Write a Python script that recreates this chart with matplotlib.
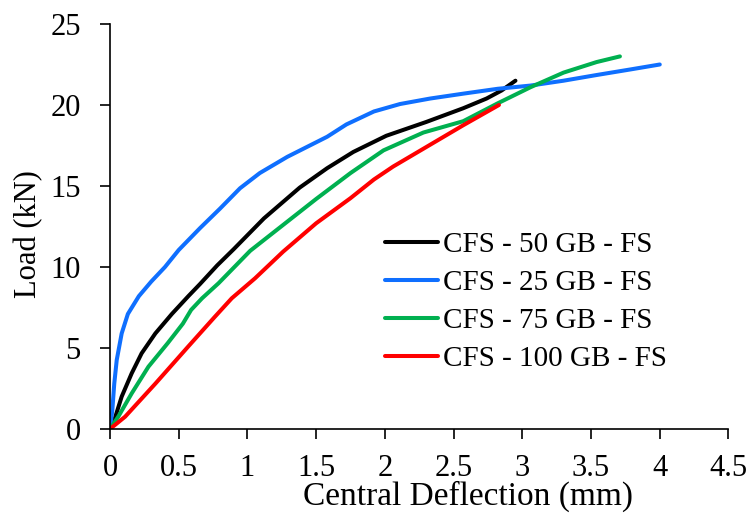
import matplotlib
matplotlib.use("Agg")
import matplotlib.pyplot as plt

plt.rcParams['font.family'] = ['Liberation Serif', 'DejaVu Serif']

# Data
x_50 = [0, 0.024, 0.085, 0.158, 0.23, 0.33, 0.45, 0.57, 0.655, 0.78, 0.90, 1.12, 1.38, 1.58, 1.77, 2.01, 2.30, 2.57, 2.74, 2.85, 2.95]
y_50 = [0, 0.35, 2.0, 3.44, 4.67, 5.9, 7.1, 8.2, 8.95, 10.1, 11.1, 13.0, 14.9, 16.1, 17.1, 18.1, 18.95, 19.8, 20.4, 20.9, 21.5]

x_25 = [0, 0.017, 0.031, 0.049, 0.085, 0.13, 0.21, 0.30, 0.40, 0.50, 0.655, 0.80, 0.946, 1.09, 1.29, 1.58, 1.72, 1.92,
        2.11, 2.33, 2.57, 2.82, 3.06, 3.30, 3.54, 3.79, 4.0]
y_25 = [0, 1.17, 2.8, 4.26, 5.9, 7.1, 8.2, 9.1, 10.0, 11.05, 12.4, 13.6, 14.86, 15.8, 16.8, 18.04, 18.8, 19.6,
        20.06, 20.4, 20.7, 21.0, 21.2, 21.5, 21.85, 22.2, 22.5]

x_75 = [0, 0.06, 0.158, 0.28, 0.42, 0.53, 0.59, 0.67, 0.79, 1.02, 1.26, 1.50, 1.75, 1.99, 2.28, 2.57, 2.82, 3.06, 3.30, 3.54, 3.71]
y_75 = [0, 0.76, 2.2, 3.85, 5.3, 6.5, 7.35, 8.07, 9.0, 11.0, 12.6, 14.2, 15.8, 17.2, 18.3, 19.0, 20.1, 21.1, 22.0, 22.65, 23.0]

x_100 = [0, 0.11, 0.33, 0.57, 0.76, 0.886, 1.055, 1.26, 1.50, 1.75, 1.92, 2.06, 2.30, 2.57, 2.83]
y_100 = [0, 0.76, 2.8, 5.1, 6.9, 8.07, 9.3, 10.95, 12.7, 14.25, 15.4, 16.2, 17.4, 18.75, 20.0]

labels = ['CFS - 50 GB - FS', 'CFS - 25 GB - FS', 'CFS - 75 GB - FS', 'CFS - 100 GB - FS']
colors = ['#000000', '#0F6FFF', '#00B050', '#FF0000']
x_ticks = [0, 0.5, 1, 1.5, 2, 2.5, 3, 3.5, 4, 4.5]
x_tick_labels = ['0', '0.5', '1', '1.5', '2', '2.5', '3', '3.5', '4', '4.5']
y_ticks = [0, 5, 10, 15, 20, 25]

fig = plt.figure(figsize=(7.5, 5.19), dpi=100)
ax = fig.add_axes([110/750, 1-429/519, (728.5-110)/750, (429-24)/519])

series = [(x_50, y_50), (x_25, y_25), (x_75, y_75), (x_100, y_100)]
for (xs, ys), lab, c in zip(series, labels, colors):
    ax.plot(xs, ys, color=c, lw=2.9, label=lab, solid_capstyle='round', solid_joinstyle='round')

ax.set_xlim(0, 4.5)
ax.set_ylim(0, 25)
ax.set_xticks(x_ticks)
ax.set_xticklabels(x_tick_labels)
ax.set_yticks(y_ticks)
for s in ['top', 'right']:
    ax.spines[s].set_visible(False)
for s in ['left', 'bottom']:
    ax.spines[s].set_linewidth(1.2)
ax.tick_params(axis='both', direction='out', length=7, width=1.2, labelsize=22)
ax.tick_params(axis='y', pad=14)
ax.tick_params(axis='x', pad=11)

fig.text(468/750, (519-505)/519, 'Central Deflection (mm)', fontsize=24, ha='center', va='baseline')
fig.text(29/750, 1-234/519, 'Load (kN)', fontsize=22, ha='center', va='center', rotation=90)

leg = ax.legend(loc='upper left', bbox_to_anchor=(385/750, 1-232/519), bbox_transform=fig.transFigure,
                frameon=False, fontsize=21, handlelength=1.8, handletextpad=0.2,
                labelspacing=0.39, borderpad=0, borderaxespad=0)

fig.savefig('out.png', dpi=100)
